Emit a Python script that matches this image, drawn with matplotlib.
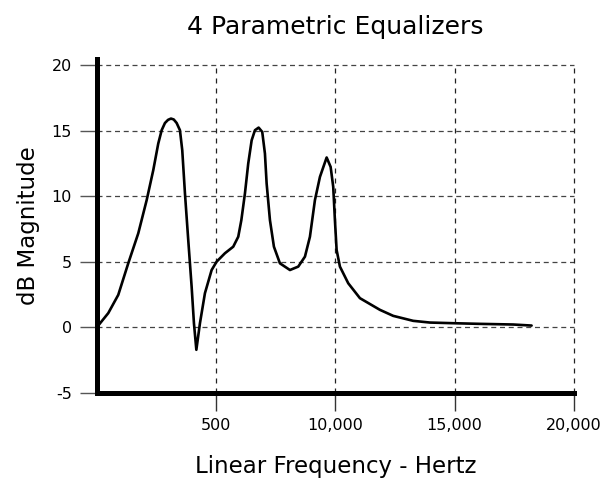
import matplotlib.pyplot as plt

# Frequency response of four parametric EQ bands (Hz, dB)
freq_hz = [0, 474, 893, 1312, 1732, 2084, 2361, 2570, 2713, 2851, 2980, 3103, 3220,
           3342, 3480, 3577, 3690, 3828, 3970, 4067, 4168, 4319, 4528, 4809, 5019,
           5367, 5715, 5925, 6055, 6206, 6344, 6487, 6625, 6780, 6931, 7044, 7115,
           7254, 7421, 7673, 8093, 8441, 8722, 8931, 9141, 9351, 9632, 9799, 9908,
           9979, 10050, 10189, 10537, 11028, 11866, 12424, 13262, 13962, 14939,
           16059, 17455, 18227]
gain_db = [0.0, 1.07, 2.46, 4.87, 7.16, 9.69, 11.98, 14.01, 15.03, 15.58, 15.82, 15.92, 15.85,
           15.58, 15.03, 13.50, 10.21, 6.65, 3.09, 0.30, -1.73, 0.30, 2.59, 4.36, 5.00,
           5.64, 6.14, 6.90, 8.17, 10.21, 12.49, 14.26, 15.03, 15.23, 14.90, 13.25, 10.97,
           8.17, 6.14, 4.87, 4.36, 4.62, 5.38, 6.90, 9.70, 11.47, 12.95, 12.23, 10.71,
           8.17, 5.89, 4.62, 3.35, 2.21, 1.32, 0.86, 0.48, 0.35, 0.30,
           0.25, 0.20, 0.12]

x_ticks = [5000, 10000, 15000, 20000]
x_labels = ['500', '10,000', '15,000', '20,000']
y_ticks = [-5, 0, 5, 10, 15, 20]
y_labels = ['-5', '0', '5', '10', '15', '20']

plt.rcParams['font.family'] = ['DejaVu Sans']

fig = plt.figure(figsize=(6.06, 4.8), dpi=100)
ax = fig.add_axes([0.160, 0.182, 0.787, 0.696])

# dashed grid boxed inside 0..20000 Hz and -5..20 dB
ax.hlines(y_ticks[1:], 0, 20000, colors='#444444', linestyles=(0, (4, 3)),
          linewidth=0.9, zorder=1, clip_on=False)
ax.vlines(x_ticks, -5, 20, colors='#222222', linestyles=(0, (4, 4)),
          linewidth=0.9, zorder=1, clip_on=False)

ax.plot(freq_hz, gain_db, color='black', linewidth=1.9, zorder=3,
        solid_joinstyle='round', solid_capstyle='round')

ax.set_xlim(0, 20000)
ax.set_ylim(-5, 20.5)
ax.set_xticks(x_ticks)
ax.set_xticklabels(x_labels)
ax.set_yticks(y_ticks)
ax.set_yticklabels(y_labels)

for side in ['top', 'right']:
    ax.spines[side].set_visible(False)
for side in ['left', 'bottom']:
    ax.spines[side].set_linewidth(3.6)
    ax.spines[side].set_color('black')
    ax.spines[side].set_capstyle('projecting')

ax.tick_params(axis='y', direction='out', length=12, width=1, color='#555555',
               pad=6, labelsize=11.5)
ax.tick_params(axis='x', direction='out', length=13, width=1, color='#333333',
               pad=5, labelsize=11.5)

ax.set_title('4 Parametric Equalizers', fontsize=18, pad=18)
ax.set_xlabel('Linear Frequency - Hertz', fontsize=16.5, labelpad=16)
ax.set_ylabel('dB Magnitude', fontsize=16.5, labelpad=8)

fig.savefig('out.png', dpi=100)
